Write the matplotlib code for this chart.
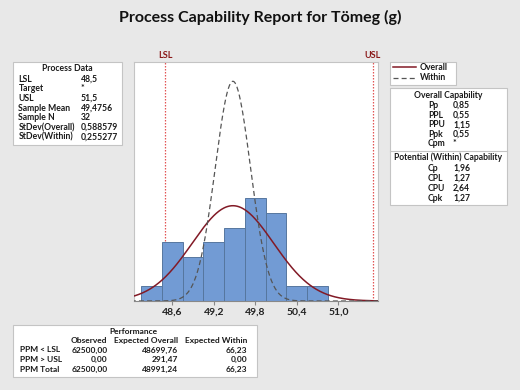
import numpy as np
import matplotlib
matplotlib.use("Agg")
import matplotlib.pyplot as plt
from matplotlib.patches import Rectangle

plt.rcParams['font.family'] = ['Lato', 'DejaVu Sans']

# data
lsl = 48.5
usl = 51.5
mean = 49.4756
n = 32
sd_overall = 0.588579
sd_within = 0.255277
bin_edges = [48.15, 48.45, 48.75, 49.05, 49.35, 49.65, 49.95, 50.25, 50.55, 50.85]
counts = [1, 4, 3, 4, 5, 7, 6, 1, 1]
xticks = [48.6, 49.2, 49.8, 50.4, 51.0]

process_labels = ["LSL", "Target", "USL", "Sample Mean", "Sample N", "StDev(Overall)", "StDev(Within)"]
process_values = ["48,5", "*", "51,5", "49,4756", "32", "0,588579", "0,255277"]
overall_labels = ["Pp", "PPL", "PPU", "Ppk", "Cpm"]
overall_values = ["0,85", "0,55", "1,15", "0,55", "*"]
within_labels = ["Cp", "CPL", "CPU", "Cpk"]
within_values = ["1,96", "1,27", "2,64", "1,27"]
perf_cols = ["Observed", "Expected Overall", "Expected Within"]
perf_rows = ["PPM < LSL", "PPM > USL", "PPM Total"]
perf_obs = ["62500,00", "0,00", "62500,00"]
perf_exp_overall = ["48699,76", "291,47", "48991,24"]
perf_exp_within = ["66,23", "0,00", "66,23"]

W, H = 520, 390
bg = '#e8e8e8'
dark_red = '#8b1a1a'
fs = 6.2
wt = 'bold'

fig = plt.figure(figsize=(W / 100, H / 100), dpi=100, facecolor=bg)


def fx(x):
    return x / W


def fy(y):
    return 1 - y / H


def txt(x, y, s, ha='left', size=fs):
    fig.text(fx(x), fy(y), s, ha=ha, va='center', fontsize=size, fontweight=wt, color='#1a1a1a')


def box(x0, y0, x1, y1):
    fig.patches.append(Rectangle((fx(x0), fy(y1)), fx(x1 - x0), (y1 - y0) / H,
                                 transform=fig.transFigure, facecolor='white',
                                 edgecolor='#c4c4c4', lw=0.8, zorder=0))


fig.text(0.5, fy(17), "Process Capability Report for Tömeg (g)", ha='center', va='center',
         fontsize=11.5, fontweight='bold', color='#111111')

# histogram axes
ax = fig.add_axes([fx(134), fy(301), fx(378 - 134), (301 - 62) / H])
ax.set_facecolor('white')
widths = np.diff(bin_edges)
dens = np.array(counts) / (n * widths)
ax.bar(bin_edges[:-1], dens, width=widths, align='edge', color='#729bd4',
       edgecolor='#56779f', lw=0.7, zorder=2)

xs = np.linspace(48.0, 51.6, 400)
pdf_o = np.exp(-0.5 * ((xs - mean) / sd_overall) ** 2) / (sd_overall * np.sqrt(2 * np.pi))
pdf_w = np.exp(-0.5 * ((xs - mean) / sd_within) ** 2) / (sd_within * np.sqrt(2 * np.pi))
ax.plot(xs, pdf_o, color='#821a26', lw=1.1, zorder=3)
ax.plot(xs, pdf_w, color='#555555', lw=0.9, ls=(0, (4, 2.5)), zorder=3)

for v, name in [(lsl, "LSL"), (usl, "USL")]:
    ax.axvline(v, color='#e25555', lw=0.9, ls=(0, (1.2, 1.2)), zorder=1)
    ax.text(v, 1.745, name, ha='center', va='center', color=dark_red, fontsize=6.6,
            fontweight='bold', clip_on=False)

ax.set_xlim(48.046, 51.573)
ax.set_ylim(0, 1.70)
ax.set_yticks([])
ax.set_xticks(xticks)
ax.set_xticklabels([f"{t:.1f}".replace('.', ',') for t in xticks], fontsize=7.5,
                   fontweight='bold', color='#222222')
ax.tick_params(axis='x', length=3, color='#888888', pad=2)
for sp in ax.spines.values():
    sp.set_color('#c4c4c4')
    sp.set_linewidth(0.8)
ax.spines['bottom'].set_color('#888888')

# process data box
box(13, 62, 122, 145)
txt(67, 68.5, "Process Data", ha='center')
for i, (lab, val) in enumerate(zip(process_labels, process_values)):
    y = 79 + i * 9.7
    txt(18.5, y, lab)
    txt(80.5, y, val)

# legend box
box(389.5, 62, 456, 85)
fig.lines.append(plt.Line2D([fx(393), fx(416)], [fy(67), fy(67)], color='#821a26', lw=1.1,
                            transform=fig.transFigure))
fig.lines.append(plt.Line2D([fx(393), fx(416)], [fy(77.5), fy(77.5)], color='#555555', lw=0.9,
                            ls=(0, (4, 2.5)), transform=fig.transFigure))
txt(420, 67, "Overall")
txt(420, 77.5, "Within")

# capability box
box(389.5, 88, 507, 204.5)
txt(448, 95, "Overall Capability", ha='center')
for i, (lab, val) in enumerate(zip(overall_labels, overall_values)):
    y = 105.5 + i * 9.6
    txt(428, y, lab)
    txt(453, y, val)
fig.lines.append(plt.Line2D([fx(389.5), fx(507)], [fy(151), fy(151)], color='#c4c4c4', lw=0.8,
                            transform=fig.transFigure))
txt(448, 157, "Potential (Within) Capability", ha='center')
for i, (lab, val) in enumerate(zip(within_labels, within_values)):
    y = 168.5 + i * 10
    txt(428, y, lab)
    txt(453, y, val)

# performance box
pfs = 6.0
box(13, 324.5, 257, 377)
txt(133, 331, "Performance", ha='center', size=pfs)
col_right = [107.5, 178, 247]
for cx, c in zip(col_right, perf_cols):
    txt(cx, 340.5, c, ha='right', size=pfs)
for i, lab in enumerate(perf_rows):
    y = 350 + i * 9.6
    txt(20.5, y, lab, size=pfs)
    for cx, val in zip(col_right, [perf_obs[i], perf_exp_overall[i], perf_exp_within[i]]):
        txt(cx, y, val, ha='right', size=pfs)

fig.savefig("out.png", dpi=100, facecolor=bg)
